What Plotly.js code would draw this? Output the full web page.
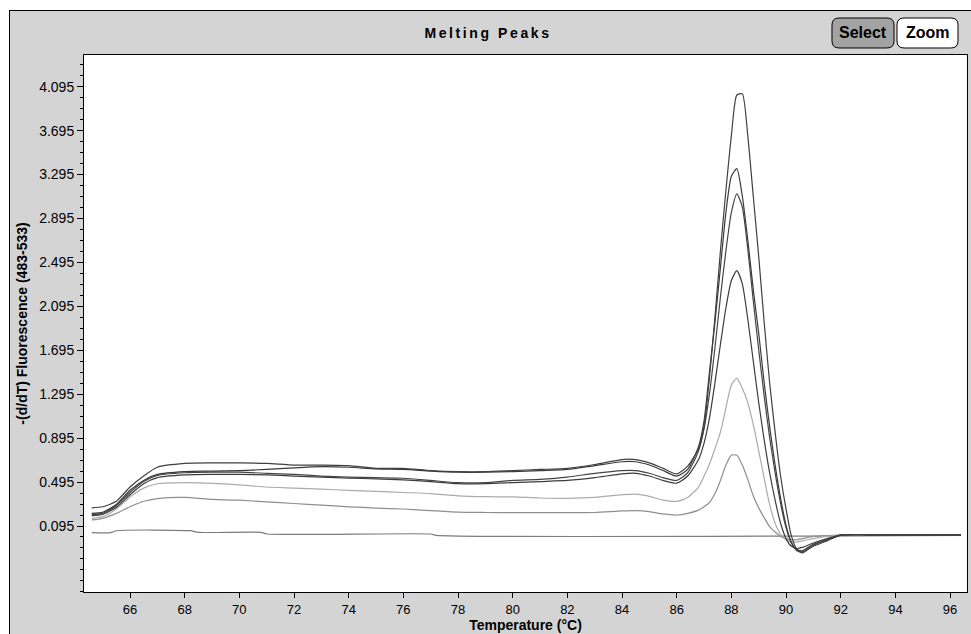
<!DOCTYPE html>
<html><head><meta charset="utf-8">
<script src="https://cdn.plot.ly/plotly-3.0.1.min.js"></script>
<style>
html,body{margin:0;padding:0;background:#fff;width:971px;height:634px;overflow:hidden;}
#panel{position:absolute;left:9px;top:10px;width:962px;height:624px;box-sizing:border-box;border-left:1px solid #000;border-top:1px solid #000;background:#d4d4d4;}
#chart{position:absolute;left:0;top:0;width:961px;height:623px;}
.gtitle{letter-spacing:2.6px;}
</style></head><body>
<div id="panel"><div id="chart"></div></div>
<script>
// Temperatures (°C)
const temps = [64.6, 65.0, 65.5, 66.0, 66.5, 67.0, 68, 69, 70, 71, 72, 73, 74, 75, 76, 77, 78, 79, 80, 81, 82, 83, 84, 84.5, 85.0, 85.5,
  86.0, 86.4, 86.8, 87.0, 87.2, 87.4, 87.6, 87.8, 88.0, 88.2, 88.4, 88.6, 88.8, 89.0, 89.2, 89.4, 89.6, 89.8, 90.0, 90.2, 90.4, 90.6, 90.8,
  91.0, 91.5, 92.0, 93, 94, 95, 96.4];

// -(d/dT) Fluorescence for each sample
const sample1 = [0.26, 0.27, 0.32, 0.45, 0.55, 0.63, 0.665, 0.67, 0.67, 0.665, 0.65, 0.65, 0.645, 0.62, 0.62, 0.60, 0.59, 0.59, 0.60, 0.61, 0.62, 0.655, 0.70, 0.70, 0.67, 0.62,
  0.57, 0.64, 0.80, 1.00, 1.45, 2.00, 2.60, 3.15, 3.65, 4.02, 4.03, 3.65, 3.10, 2.55, 1.95, 1.40, 0.95, 0.55, 0.25, 0.00, -0.12, -0.15, -0.12,
  -0.09, -0.04, 0.012, 0.015, 0.015, 0.015, 0.015];
const sample2 = [0.21, 0.22, 0.29, 0.42, 0.51, 0.565, 0.59, 0.595, 0.60, 0.61, 0.625, 0.635, 0.63, 0.615, 0.61, 0.595, 0.585, 0.585, 0.59, 0.60, 0.61, 0.645, 0.68, 0.68, 0.65, 0.60,
  0.55, 0.61, 0.82, 1.05, 1.50, 1.95, 2.45, 2.95, 3.28, 3.35, 3.10, 2.70, 2.25, 1.85, 1.40, 1.00, 0.65, 0.35, 0.10, -0.06, -0.13, -0.14, -0.11,
  -0.08, -0.03, 0.012, 0.015, 0.015, 0.015, 0.015];
const sample3 = [0.20, 0.21, 0.28, 0.40, 0.50, 0.555, 0.58, 0.585, 0.585, 0.575, 0.565, 0.55, 0.54, 0.535, 0.53, 0.51, 0.49, 0.49, 0.51, 0.52, 0.54, 0.575, 0.60, 0.60, 0.575, 0.535,
  0.51, 0.58, 0.78, 0.98, 1.30, 1.72, 2.18, 2.60, 2.95, 3.12, 3.00, 2.62, 2.15, 1.70, 1.28, 0.90, 0.58, 0.30, 0.08, -0.06, -0.12, -0.13, -0.10,
  -0.07, -0.03, 0.012, 0.015, 0.015, 0.015, 0.015];
const sample4 = [0.19, 0.20, 0.265, 0.38, 0.48, 0.535, 0.56, 0.565, 0.565, 0.56, 0.55, 0.54, 0.53, 0.525, 0.515, 0.50, 0.48, 0.48, 0.49, 0.50, 0.51, 0.535, 0.57, 0.575, 0.55, 0.51,
  0.485, 0.55, 0.70, 0.85, 1.08, 1.40, 1.75, 2.08, 2.33, 2.42, 2.30, 1.98, 1.60, 1.22, 0.88, 0.58, 0.33, 0.12, -0.02, -0.09, -0.11, -0.10, -0.08,
  -0.06, -0.02, 0.012, 0.015, 0.015, 0.015, 0.015];
const sample5 = [0.165, 0.18, 0.25, 0.36, 0.44, 0.48, 0.49, 0.484, 0.47, 0.45, 0.44, 0.43, 0.42, 0.41, 0.40, 0.39, 0.37, 0.362, 0.36, 0.35, 0.347, 0.355, 0.38, 0.385, 0.365, 0.33,
  0.32, 0.355, 0.45, 0.55, 0.66, 0.80, 0.95, 1.17, 1.38, 1.44, 1.35, 1.22, 1.02, 0.78, 0.53, 0.29, 0.12, 0.02, -0.03, -0.05, -0.05, -0.04, -0.03,
  -0.02, 0.0, 0.012, 0.015, 0.015, 0.015, 0.015];
const sample6 = [0.15, 0.165, 0.21, 0.27, 0.32, 0.345, 0.355, 0.338, 0.33, 0.315, 0.30, 0.285, 0.27, 0.258, 0.25, 0.235, 0.222, 0.218, 0.216, 0.216, 0.216, 0.218, 0.232, 0.235, 0.225, 0.205,
  0.195, 0.21, 0.24, 0.27, 0.31, 0.39, 0.51, 0.65, 0.74, 0.74, 0.65, 0.52, 0.37, 0.26, 0.17, 0.09, 0.04, 0.0, -0.02, -0.03, -0.03, -0.02, -0.01,
  0.0, 0.008, 0.012, 0.015, 0.015, 0.015, 0.015];
// Negative control (flat baseline)
const blankTemps = [64.6, 65.3, 65.5, 68.2, 68.5, 70.8, 71.0, 77.0, 77.2, 96.4];
const blankVals  = [0.034, 0.034, 0.052, 0.052, 0.037, 0.037, 0.022, 0.022, 0.01, 0.01];

// Tick labels
const xTickVals = [66, 68, 70, 72, 74, 76, 78, 80, 82, 84, 86, 88, 90, 92, 94, 96];
const xTickText = ['66', '68', '70', '72', '74', '76', '78', '80', '82', '84', '86', '88', '90', '92', '94', '96'];
const yTickVals = [0.095, 0.495, 0.895, 1.295, 1.695, 2.095, 2.495, 2.895, 3.295, 3.695, 4.095];
const yTickText = ['0.095', '0.495', '0.895', '1.295', '1.695', '2.095', '2.495', '2.895', '3.295', '3.695', '4.095'];

const sampleSeries = [
  {y: blankVals, x: blankTemps, color: '#7c7c7c'},
  {y: sample6, x: temps, color: '#8e8e8e'},
  {y: sample5, x: temps, color: '#ababab'},
  {y: sample4, x: temps, color: '#3c3c3c'},
  {y: sample3, x: temps, color: '#444444'},
  {y: sample2, x: temps, color: '#3a3a3a'},
  {y: sample1, x: temps, color: '#404040'}
];
const traces = sampleSeries.map(s => ({
  type: 'scatter', mode: 'lines', x: s.x, y: s.y,
  line: {color: s.color, width: 1.2, shape: 'spline', smoothing: 0.6},
  hoverinfo: 'skip', showlegend: false
}));

// page-pixel -> paper coordinate helpers (plot area: x 84..967, y 55..592)
const PX0 = 84, PW = 883, PY1 = 592, PH = 537;
const px = v => (v - PX0) / PW;
const py = v => (PY1 - v) / PH;
function roundRect(x0, y0, x1, y1, r) {
  const p = (a, b) => px(a).toFixed(5) + ',' + py(b).toFixed(5);
  return 'M' + p(x0 + r, y0) + ' L' + p(x1 - r, y0) + ' Q' + p(x1, y0) + ' ' + p(x1, y0 + r) +
    ' L' + p(x1, y1 - r) + ' Q' + p(x1, y1) + ' ' + p(x1 - r, y1) +
    ' L' + p(x0 + r, y1) + ' Q' + p(x0, y1) + ' ' + p(x0, y1 - r) +
    ' L' + p(x0, y0 + r) + ' Q' + p(x0, y0) + ' ' + p(x0 + r, y0) + ' Z';
}

const regular = 'Liberation Sans, Arial, sans-serif';

const layout = {
  width: 961, height: 623,
  margin: {l: 74, r: 4, t: 44, b: 42, pad: 0},
  paper_bgcolor: '#d4d4d4', plot_bgcolor: '#ffffff',
  showlegend: false, hovermode: false,
  title: {text: 'Melting Peaks', xref: 'container', yref: 'container',
    x: (488 - 10) / 961, y: 1 - (33 - 11) / 623, xanchor: 'center', yanchor: 'middle',
    font: {family: regular, size: 14, color: '#000', weight: 'bold'}},
  xaxis: {
    range: [64.317, 96.62], tickmode: 'array', tickvals: xTickVals, ticktext: xTickText,
    ticks: 'outside', ticklen: 5, tickwidth: 1, tickcolor: '#000',
    showline: true, linecolor: '#000', linewidth: 1, mirror: true,
    showgrid: false, zeroline: false,
    tickfont: {family: regular, size: 13, color: '#000'},
    title: {text: 'Temperature (°C)', standoff: 1, font: {family: regular, size: 14, color: '#000', weight: 'bold'}}
  },
  yaxis: {
    range: [-0.506, 4.384], tickmode: 'array', tickvals: yTickVals, ticktext: yTickText,
    ticks: 'outside', ticklen: 6, tickwidth: 1, tickcolor: '#000',
    minor: {tickmode: 'linear', tick0: 0.095, dtick: 0.1, ticks: 'outside', ticklen: 3, tickcolor: '#000', showgrid: false},
    showline: true, linecolor: '#000', linewidth: 1, mirror: true,
    showgrid: false, zeroline: false,
    tickfont: {family: regular, size: 14, color: '#000'},
    title: {text: '-(d/dT) Fluorescence (483-533)', standoff: 8, font: {family: regular, size: 14, color: '#000', weight: 'bold'}}
  },
  shapes: [
    {type: 'path', xref: 'paper', yref: 'paper', path: roundRect(832, 18, 894, 48, 7), fillcolor: '#a3a3a3', line: {color: '#000', width: 1}},
    {type: 'path', xref: 'paper', yref: 'paper', path: roundRect(897, 18, 958, 48, 7), fillcolor: '#ffffff', line: {color: '#000', width: 1}}
  ],
  annotations: [
    {text: 'Select', xref: 'paper', yref: 'paper', x: px(863), y: py(33), xanchor: 'center', yanchor: 'middle', showarrow: false,
      font: {family: regular, size: 16, color: '#000', weight: 'bold'}},
    {text: 'Zoom', xref: 'paper', yref: 'paper', x: px(927.5), y: py(33), xanchor: 'center', yanchor: 'middle', showarrow: false,
      font: {family: regular, size: 16, color: '#000', weight: 'bold'}}
  ]
};

Plotly.newPlot('chart', traces, layout, {staticPlot: true, displayModeBar: false});
</script></body></html>
